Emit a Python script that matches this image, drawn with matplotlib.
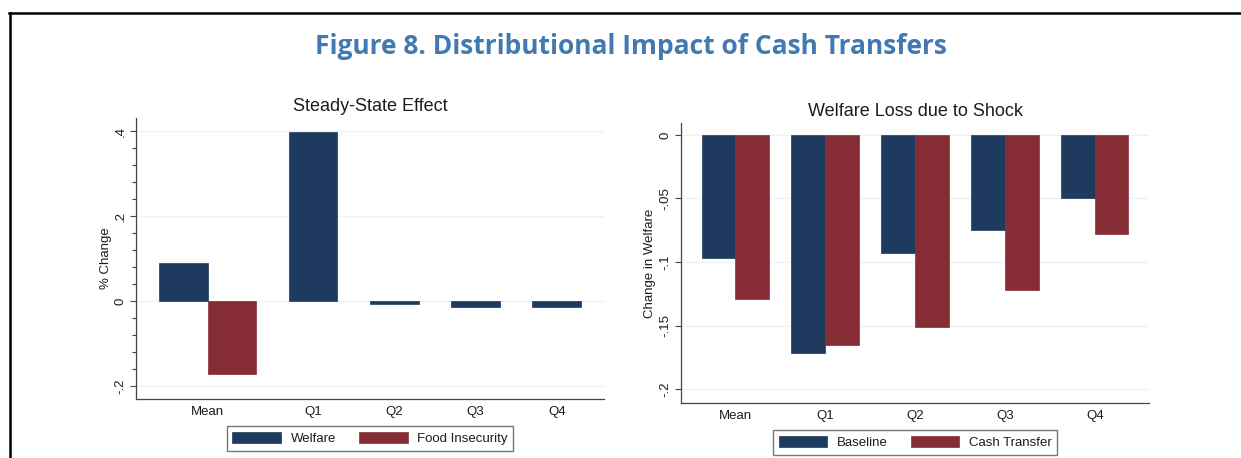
import matplotlib
matplotlib.use("Agg")
import matplotlib.pyplot as plt
import numpy as np
from matplotlib.lines import Line2D
from matplotlib.ticker import FuncFormatter, MultipleLocator

# values
categories = ["Mean", "Q1", "Q2", "Q3", "Q4"]

steady_welfare = [0.089, 0.398, -0.007, -0.015, -0.015]
steady_food = [-0.172, np.nan, np.nan, np.nan, np.nan]

shock_baseline = [-0.097, -0.172, -0.093, -0.075, -0.050]
shock_cash = [-0.129, -0.165, -0.151, -0.122, -0.078]

steady_ticks = [-0.2, 0.0, 0.2, 0.4]
shock_ticks = [-0.2, -0.15, -0.1, -0.05, 0.0]

NAVY = "#1e3a5f"
MAROON = "#852c35"
GRID = "#eef2f4"
TEXT = "#1c1c1c"

plt.rcParams['font.family'] = ['Liberation Sans', 'DejaVu Sans']


def stata_fmt(v, pos=None):
    if abs(v) < 1e-12:
        return "0"
    s = f"{v:g}"
    return s.replace("0.", ".")


def bar_layout(series, gap=0.67):
    # stata style: missing values take no slot, groups separated by a gap
    positions = [[np.nan] * len(categories) for _ in series]
    centers = []
    x = 0.0
    for i in range(len(categories)):
        used = []
        for k, s in enumerate(series):
            if not np.isnan(s[i]):
                positions[k][i] = x
                used.append(x)
                x += 1.0
        centers.append(np.mean(used))
        x += gap
    first = np.nanmin(positions[0])
    last = x - gap - 1.0
    return positions, centers, first, last


def draw_panel(ax, series, labels, title, ylabel, yticks, ylim, margin, minor=None):
    positions, centers, first, last = bar_layout(series)
    colors = [NAVY, MAROON]
    handles = []
    for k, s in enumerate(series):
        pos = np.array(positions[k])
        vals = np.array(s)
        ok = ~np.isnan(vals)
        b = ax.bar(pos[ok], vals[ok], width=1.0, color=colors[k],
                   edgecolor=colors[k], linewidth=0.5, zorder=3, label=labels[k])
        handles.append(b)

    ax.set_xlim(first - 0.5 - margin, last + 0.5 + margin)
    ax.set_ylim(*ylim)
    ax.set_yticks(yticks)
    ax.yaxis.set_major_formatter(FuncFormatter(stata_fmt))
    if minor:
        ax.yaxis.set_minor_locator(MultipleLocator(minor))
        ax.tick_params(axis='y', which='minor', length=3, width=0.8, color='#444444')
    ax.set_xticks(centers)
    ax.set_xticklabels(categories)

    ax.grid(axis='y', color=GRID, linewidth=1.0, zorder=0)
    ax.set_axisbelow(True)
    for side in ["top", "right"]:
        ax.spines[side].set_visible(False)
    for side in ["left", "bottom"]:
        ax.spines[side].set_color("#444444")
        ax.spines[side].set_linewidth(0.9)

    ax.tick_params(axis='x', length=0, pad=5, labelsize=9.5, labelcolor=TEXT)
    ax.tick_params(axis='y', which='major', length=4, width=0.8, color='#444444',
                   pad=3, labelsize=9.5, labelcolor=TEXT)
    for lab in ax.get_yticklabels():
        lab.set_rotation(90)
        lab.set_va('center')

    ax.set_title(title, fontsize=13, color=TEXT, pad=5)
    ax.set_ylabel(ylabel, fontsize=9.5, color=TEXT, labelpad=2)

    ax.legend(handles=handles, loc='upper center', bbox_to_anchor=(0.5, -0.096),
              ncol=2, fontsize=9.5, frameon=True, fancybox=False,
              edgecolor='#555555', handlelength=3.7, handleheight=0.95,
              handletextpad=0.7, columnspacing=1.75, borderpad=0.45,
              borderaxespad=0, labelcolor=TEXT)
    ax.get_legend().get_frame().set_linewidth(1.0)


W, H = 1241, 458
fig = plt.figure(figsize=(W / 100, H / 100), dpi=100)
fig.patch.set_facecolor("white")

# page frame lines
fig.add_artist(Line2D([9 / W, 1.0], [1 - 12.7 / H, 1 - 12.7 / H], color='black',
                      linewidth=1.8, transform=fig.transFigure))
fig.add_artist(Line2D([9.8 / W, 9.8 / W], [0.0, 1 - 12.7 / H], color='black',
                      linewidth=1.8, transform=fig.transFigure))

fig.text(631 / W, 1 - 46 / H, "Figure 8. Distributional Impact of Cash Transfers",
         ha='center', va='center', fontsize=19, fontweight='bold',
         color='#4179b0', family=['Open Sans', 'DejaVu Sans'])

ax1 = fig.add_axes([136 / W, 1 - 399 / H, (604 - 136) / W, (399 - 118) / H])
draw_panel(ax1, [steady_welfare, steady_food], ["Welfare", "Food Insecurity"],
           "Steady-State Effect", "% Change", steady_ticks, (-0.231, 0.431),
           margin=0.47, minor=0.04)

ax2 = fig.add_axes([681 / W, 1 - 403 / H, (1149 - 681) / W, (403 - 123) / H])
draw_panel(ax2, [shock_baseline, shock_cash], ["Baseline", "Cash Transfer"],
           "Welfare Loss due to Shock", "Change in Welfare", shock_ticks,
           (-0.211, 0.0094), margin=0.61)

fig.savefig("out.png", dpi=100)
